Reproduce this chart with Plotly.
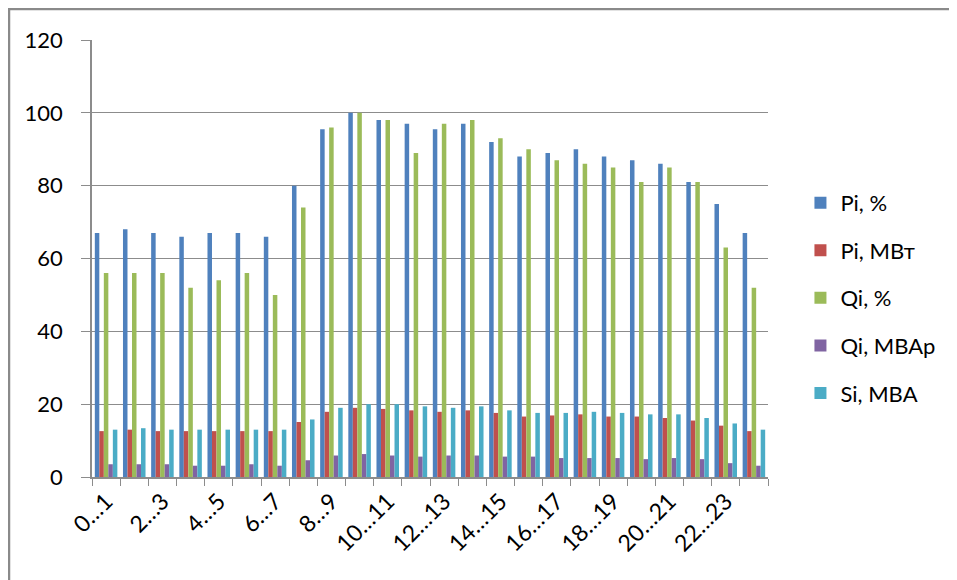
import plotly.graph_objects as go

categories = [f"{h}…{h+1}" for h in range(24)]
tick_labels = [c if i % 2 == 0 else "" for i, c in enumerate(categories)]

pi_pct = [67, 68, 67, 66, 67, 67, 66, 80, 95.5, 100, 98, 97, 95.5, 97, 92, 88, 89, 90, 88, 87, 86, 81, 75, 67]
pi_mw = [12.6, 13.0, 12.6, 12.6, 12.6, 12.6, 12.6, 15.1, 17.9, 19.0, 18.7, 18.3, 17.9, 18.3, 17.6, 16.6, 16.9, 17.2, 16.6, 16.6, 16.2, 15.5, 14.1, 12.6]
qi_pct = [56, 56, 56, 52, 54, 56, 50, 74, 96, 100, 98, 89, 97, 98, 93, 90, 87, 86, 85, 81, 85, 81, 63, 52]
qi_mvar = [3.5, 3.5, 3.5, 3.1, 3.1, 3.5, 3.1, 4.6, 5.9, 6.3, 5.9, 5.6, 5.9, 5.9, 5.6, 5.6, 5.2, 5.2, 5.2, 4.9, 5.2, 4.9, 3.8, 3.1]
si_mva = [13.0, 13.4, 13.0, 13.0, 13.0, 13.0, 13.0, 15.8, 19.0, 20.0, 20.0, 19.4, 19.0, 19.4, 18.3, 17.6, 17.6, 17.9, 17.6, 17.2, 17.2, 16.2, 14.7, 13.0]

series = [
    ("Pi, %", pi_pct, "#4F81BD"),
    ("Pi, МВт", pi_mw, "#C0504D"),
    ("Qi, %", qi_pct, "#9BBB59"),
    ("Qi, МВАр", qi_mvar, "#8064A2"),
    ("Si, МВА", si_mva, "#4BACC6"),
]

fig = go.Figure()
for name, vals, color in series:
    fig.add_trace(go.Bar(x=categories, y=vals, name=name, legendgroup=name,
                         marker=dict(color=color, line=dict(width=0))))

grid = "#8C8C8C"
fig.update_layout(
    width=949, height=572,
    margin=dict(l=84, r=189, t=32, b=103),
    paper_bgcolor="white", plot_bgcolor="white",
    barmode="group", bargap=0.2, bargroupgap=0,
    font=dict(family="Lato", size=22, color="#000000"),
    legend=dict(x=1.048, y=0.41, xanchor="left", yanchor="middle",
                font=dict(size=22), tracegroupgap=16, bgcolor="rgba(0,0,0,0)"),
    xaxis=dict(type="category", tickmode="array", tickvals=categories, ticktext=tick_labels,
               tickangle=-45, tickson="boundaries", ticks="outside", ticklen=7,
               tickcolor=grid, showline=True, linecolor=grid, linewidth=1.5,
               showgrid=False, range=[-0.5, 23.5], automargin=False,
               tickfont=dict(size=23)),
    yaxis=dict(range=[0, 120], dtick=20, showgrid=True, gridcolor=grid, gridwidth=1.3,
               ticks="outside", ticklen=9, tickcolor=grid, showline=True,
               linecolor=grid, linewidth=1.5, ticklabelstandoff=14, zeroline=False,
               automargin=False),
    shapes=[dict(type="rect", xref="paper", yref="paper",
                 x0=(9 - 92) / 676, x1=(975 - 92) / 676,
                 y0=(477 - 600) / 437, y1=(477 - 9) / 437,
                 line=dict(color="#8A8A8A", width=2.5), layer="below")],
)

fig.write_html("out.html")
